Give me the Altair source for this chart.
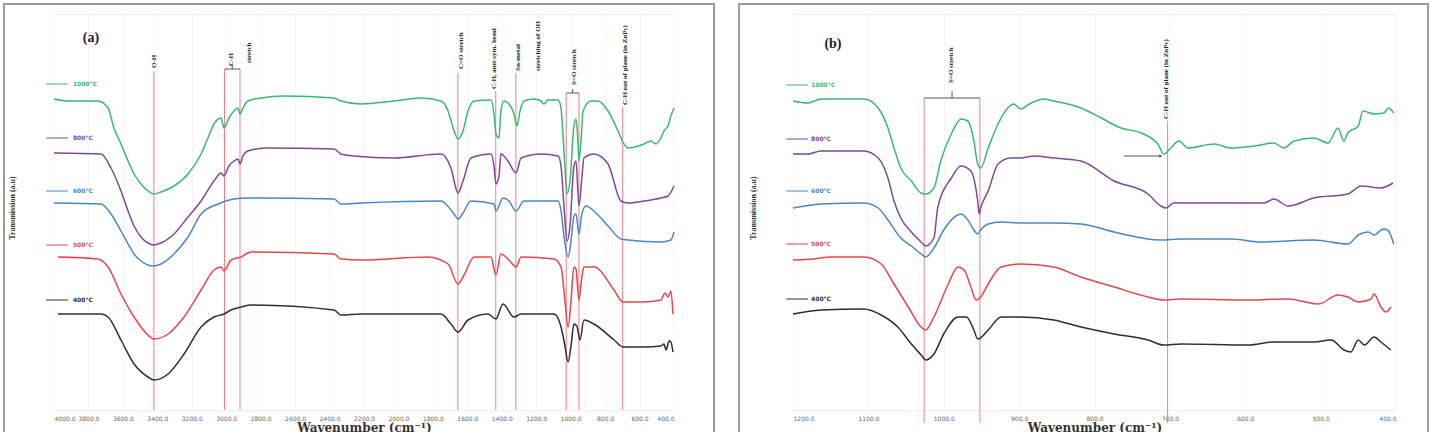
import altair as alt
import pandas as pd

# Sample series (legend order, top to bottom) and their colours
SERIES = ["1000°C", "800°C", "600°C", "500°C", "400°C"]
COLORS = ["#3cb872", "#7e4a92", "#4a86c8", "#e4474c", "#2e2e2e"]

# ---------------- Panel (a): full range 4000-400 cm-1 ----------------
A_GREEN = [(4000, 77.75), (3919, 77.25), (3745, 77.25), (3686, 75.5), (3652, 70.5), (3611, 66.5),
           (3570, 62.25), (3535, 59), (3495, 56.5), (3454, 54.75), (3419, 54), (3379, 54.5),
           (3303, 56), (3222, 59), (3146, 64), (3106, 68), (3071, 71.5), (3030, 73), (3013, 70.5),
           (2984, 73), (2955, 74.75), (2932, 75.5), (2920, 74), (2903, 75.5), (2874, 77.25),
           (2798, 78), (2665, 78.5), (2374, 78), (2334, 77.25), (2217, 76.5), (2026, 77.25),
           (1869, 78), (1753, 77.25), (1712, 74.75), (1677, 69.75), (1654, 67.75), (1625, 69.75),
           (1596, 74.75), (1561, 77.25), (1463, 77.5), (1445, 74), (1434, 69), (1416, 68),
           (1405, 74.75), (1387, 77.25), (1358, 76.5), (1329, 74), (1312, 71), (1294, 74.75),
           (1271, 77.25), (1213, 77.75), (1172, 77.25), (1155, 76.5), (1132, 77.5), (1073, 77.5),
           (1056, 75.5), (1039, 64.75), (1021, 54), (1004, 57.25), (981, 71), (969, 72.75),
           (958, 67.25), (952, 62.25), (940, 67.25), (928, 74.75), (882, 77.25), (841, 77.25),
           (783, 74.75), (725, 69.75), (690, 66.5), (667, 65.5), (574, 66.5), (534, 67.25),
           (505, 66.5), (476, 68), (458, 69.75), (435, 71), (418, 73.5), (400, 75.5)]
A_PURPLE = [(4000, 64.25), (3727, 64), (3669, 60.5), (3611, 54.75), (3570, 49.75), (3535, 46),
            (3495, 43.25), (3454, 41.75), (3425, 41.25), (3379, 41.75), (3303, 44), (3222, 48.25),
            (3146, 52.25), (3071, 57.25), (3030, 59.25), (3013, 58.5), (2984, 61), (2955, 62.25),
            (2932, 62.75), (2920, 61.5), (2903, 63.5), (2874, 64.75), (2757, 65.5), (2374, 65.25),
            (2334, 64), (2258, 63.5), (2026, 63), (1753, 64), (1695, 60.5), (1654, 54.25),
            (1625, 57.25), (1579, 63), (1463, 64), (1445, 61), (1434, 56.5), (1416, 58.5),
            (1405, 64), (1364, 62.25), (1317, 59.25), (1288, 63), (1172, 64), (1073, 63.5),
            (1056, 61), (1039, 51), (1021, 42.25), (1004, 46), (981, 61), (969, 62.25), (952, 51),
            (934, 58.5), (923, 63), (865, 64), (783, 61.5), (708, 52.25), (667, 51.75),
            (574, 52.25), (476, 53), (435, 53.5), (400, 56)]
A_BLUE = [(4000, 51.75), (3727, 51.5), (3669, 49), (3611, 44.75), (3570, 41.5), (3535, 39),
          (3495, 37.25), (3454, 36.25), (3425, 36), (3379, 36.5), (3303, 39), (3222, 43.25),
          (3146, 49), (3048, 51.5), (2955, 52.75), (2874, 53), (2374, 52.75), (2334, 51.5),
          (2217, 51.75), (1753, 52.25), (1677, 49), (1654, 47.75), (1625, 49.25), (1579, 52.25),
          (1445, 51.5), (1434, 49.75), (1393, 53), (1358, 52.25), (1317, 49.75), (1271, 52.25),
          (1073, 52.25), (1056, 49.75), (1039, 43.5), (1015, 38.25), (998, 42.25), (981, 48.5),
          (969, 49), (952, 44), (934, 49.25), (911, 51), (865, 49.75), (783, 46), (708, 42.75),
          (667, 42.5), (476, 42), (418, 42.5), (400, 44.5)]
A_RED = [(3977, 38.25), (3745, 37.75), (3686, 35.75), (3611, 29), (3535, 23.25), (3454, 18.75),
         (3419, 17.75), (3338, 19), (3245, 23.25), (3146, 30), (3071, 35), (3030, 35.75),
         (3013, 34.75), (2972, 37.5), (2914, 38.25), (2856, 39.5), (2374, 39), (2334, 37.75),
         (2217, 37.5), (1828, 38.25), (1712, 36.5), (1654, 31.5), (1619, 33.75), (1561, 38.25),
         (1463, 38.25), (1434, 33.75), (1405, 39), (1358, 37.5), (1317, 35.75), (1288, 38.25),
         (1097, 37.75), (1056, 35.75), (1033, 27.25), (1015, 20.75), (998, 27.25), (981, 35.75),
         (969, 35.25), (952, 27.5), (934, 33.5), (923, 35.75), (865, 35.75), (748, 30),
         (696, 27), (574, 27), (476, 27.5), (452, 29.25), (435, 28.25), (418, 29.75), (406, 24)]
A_BLACK = [(3977, 24), (3727, 24), (3686, 23.25), (3611, 17.5), (3535, 11.5), (3454, 8.25),
           (3419, 7.5), (3338, 9), (3245, 14), (3146, 20.75), (3071, 23.25), (3013, 24),
           (2972, 25), (2914, 25.75), (2856, 26.25), (2374, 25), (2334, 23.75), (2217, 24),
           (1753, 24), (1695, 21.5), (1654, 19.5), (1596, 22.5), (1480, 24), (1434, 22.75),
           (1393, 26.5), (1329, 23.25), (1288, 24), (1097, 24), (1056, 20.75), (1033, 16),
           (1015, 12), (998, 16), (981, 21.5), (964, 21), (946, 17.5), (923, 22.5), (865, 21.5),
           (748, 17.5), (696, 15.75), (574, 15.75), (476, 16), (458, 16.5), (446, 15),
           (429, 17.25), (418, 17), (406, 14.5)]

A_TICKS = [4000, 3800, 3600, 3400, 3200, 3000, 2800, 2600, 2400, 2200, 2000,
           1800, 1600, 1400, 1200, 1000, 800, 600, 400]
A_LEGEND_Y = [81.5, 68, 54.75, 41.25, 27.5]
# band markers: (wavenumber, top of the guide line)
A_BANDS = [(3420, 84.75), (3010, 85.25), (2920, 85.25), (1655, 84.25), (1435, 79.75),
           (1318, 84.25), (1026, 79.25), (952, 79.25), (698, 75.75)]
A_BAND_TEXT = [("O-H", 3419, 85.5), ("C-H", 2970, 86), ("stretch", 2868, 86.75),
               ("C=O stretch", 1637, 85.25), ("C-H, anti-sym. bend", 1445, 80.25),
               ("Sn-metal", 1306, 84.75), ("stretching of OH", 1190, 84.75),
               ("S=O stretch", 981, 81.25), ("C-H out of plane (in ZnPc)", 685, 76.25)]
# bracket segments: (x1, y1, x2, y2)
A_BRACKETS = [(3010, 85.25, 2920, 85.25), (2965, 85.25, 2965, 86.25),
              (1026, 79.25, 952, 79.25), (989, 79.25, 989, 80.25)]

# ---------------- Panel (b): 1200-400 cm-1 ----------------
B_GREEN = [(1200, 77.25), (1180, 76.75), (1163, 77.75), (1140, 77.75), (1106, 77.75), (1087, 75.5),
           (1074, 70.5), (1066, 65.5), (1057, 60.5), (1043, 57.25), (1030, 54.25), (1024, 54),
           (1013, 55.5), (1004, 62.25), (990, 69), (977, 72.75), (968, 72.25), (960, 67.25),
           (955, 61.5), (951, 60.5), (941, 65.5), (928, 71.5), (915, 75.5), (907, 76.5),
           (898, 75.25), (884, 76.75), (867, 77.75), (854, 77.25), (818, 75.5), (791, 73),
           (765, 70.5), (738, 69.25), (716, 66.5), (708, 64), (699, 65.5), (688, 67.25),
           (676, 65.5), (641, 66.5), (619, 65.5), (588, 66), (562, 66.75), (549, 65.5),
           (535, 67.25), (509, 68), (490, 66.75), (477, 70.5), (469, 67.25), (464, 69.25),
           (450, 71), (444, 74.75), (429, 74), (416, 74.25), (410, 75.5), (403, 74.25)]
B_PURPLE = [(1200, 64), (1180, 64), (1163, 64.75), (1106, 64.75), (1087, 63), (1074, 58),
            (1066, 52.25), (1057, 48), (1043, 44.5), (1030, 42), (1024, 41), (1013, 43),
            (1008, 50.5), (990, 58), (977, 61), (964, 59.75), (955, 52.25), (953, 49),
            (951, 50.5), (941, 54.75), (928, 61.5), (911, 63), (898, 63), (880, 63.5),
            (854, 63), (818, 62.25), (774, 57.25), (729, 54), (712, 51), (705, 50.5),
            (695, 51.75), (641, 51.75), (575, 51.75), (562, 52.75), (543, 51), (509, 53),
            (464, 54), (446, 56), (420, 55.5), (404, 56.75)]
B_BLUE = [(1200, 50.5), (1163, 51.5), (1106, 51.75), (1087, 50.5), (1074, 47.5), (1057, 43),
          (1043, 41), (1030, 39), (1024, 38.25), (1013, 40.5), (1000, 45), (984, 48.5),
          (977, 49), (968, 47.5), (960, 45), (955, 44), (951, 45), (941, 46.5), (924, 47),
          (898, 46.75), (854, 46.75), (818, 46.5), (774, 44.5), (712, 42.5), (685, 42.75),
          (619, 42.75), (579, 42), (509, 42.5), (464, 41.5), (450, 43.75), (437, 44.5),
          (429, 43.75), (417, 45.25), (411, 45), (403, 41.5)]
B_RED = [(1200, 37.5), (1172, 37.75), (1150, 38.25), (1106, 38.25), (1083, 36.5), (1066, 31.5),
         (1047, 25.75), (1030, 20.75), (1024, 20), (1013, 23.25), (994, 31.5), (981, 35.75),
         (973, 35), (964, 30.75), (957, 27.5), (951, 28.25), (941, 31.5), (924, 35.75),
         (898, 36.5), (854, 35.75), (818, 33.25), (774, 30.75), (729, 28.25), (708, 27.5),
         (685, 27.75), (596, 27.5), (543, 27.75), (503, 26.5), (477, 28.75), (464, 28.25),
         (450, 27), (433, 27.75), (429, 29), (420, 25.75), (413, 24.5), (407, 25.75)]
B_BLACK = [(1200, 24), (1163, 25), (1106, 25.25), (1083, 23.75), (1061, 20.75), (1043, 16.5),
           (1030, 13.75), (1024, 12.5), (1013, 14), (1000, 19), (981, 23.25), (970, 23.25),
           (960, 20), (955, 17.75), (941, 20), (924, 23.25), (898, 23.25), (854, 22.5),
           (818, 20.75), (774, 19), (729, 17.5), (708, 16.25), (685, 16.5), (596, 16.25),
           (562, 17), (509, 17), (486, 17.5), (469, 15), (460, 14.5), (450, 17.5), (442, 16.25),
           (429, 18.25), (420, 17), (407, 15)]

B_TICKS = [1200, 1100, 1000, 900, 800, 700, 600, 500, 400]
B_LEGEND_Y = [81.25, 67.75, 54.75, 41.5, 27.75]
B_BANDS = [(1026, 78), (952, 78), (703, 72.25)]
B_BAND_TEXT = [("S=O stretch", 990, 81.75), ("C-H out of plane (in ZnPc)", 705, 72.75)]
B_BRACKETS = [(1026, 78, 952, 78), (989, 78, 989, 79.75), (761, 63.5, 714, 63.5)]
B_ARROW = [(712, 63.5)]

SERIF = "Liberation Serif"
BAND_RED = "#ee8088"
FRAME_GRAY = "#9c9c9c"

color_enc = alt.Color("series:N", scale=alt.Scale(domain=SERIES, range=COLORS), legend=None)
y_scale = alt.Scale(domain=[0, 99], nice=False, zero=False)


def y_enc(field):
    return alt.Y(f"{field}:Q", scale=y_scale, axis=None)


def make_x(domain, ticks):
    axis = alt.Axis(values=ticks, format=".1f", labelFontSize=6, labelColor="#666",
                    labelFont="DejaVu Sans", labelPadding=5, tickSize=0, domain=False,
                    grid=True, gridColor="#f6f6f6", title="Wavenumber (cm⁻¹)",
                    titleFont="DejaVu Serif", titleFontWeight="bold", titleFontSize=12,
                    titleColor="#333", titlePadding=1)

    def enc(field):
        return alt.X(f"{field}:Q", scale=alt.Scale(domain=domain, nice=False, zero=False),
                     axis=axis)
    return enc


def build_panel(curves, domain, ticks, width, legend_y, leg_x, bands, band_bottom,
                band_text, brackets, tag, ytitle_x, frame_x, arrows=None):
    x_enc = make_x(domain, ticks)
    rows = []
    for name, pts in zip(SERIES, curves):
        for wn, t in pts:
            rows.append({"wn": wn, "T": t, "series": name})
    curve_df = pd.DataFrame(rows)

    frame = alt.Chart(pd.DataFrame({"k": [0]})).mark_rect(
        fillOpacity=0, stroke=FRAME_GRAY, strokeWidth=2
    ).encode(x=alt.value(frame_x[0]), x2=alt.value(frame_x[1]),
             y=alt.value(-10), y2=alt.value(427))

    band_df = pd.DataFrame({"wn": [b[0] for b in bands], "top": [b[1] for b in bands],
                            "bot": [band_bottom] * len(bands)})
    band_lines = alt.Chart(band_df).mark_rule(color=BAND_RED, strokeWidth=1).encode(
        x=x_enc("wn"), y=y_enc("top"), y2="bot:Q")

    br_df = pd.DataFrame(brackets, columns=["x1", "y1", "x2", "y2"])
    br = alt.Chart(br_df).mark_rule(color="#555", strokeWidth=1).encode(
        x=x_enc("x1"), x2="x2:Q", y=y_enc("y1"), y2="y2:Q")

    txt_df = pd.DataFrame(band_text, columns=["label", "wn", "T"])
    txt = alt.Chart(txt_df).mark_text(
        angle=270, align="left", baseline="middle", font=SERIF, fontWeight="bold",
        fontSize=7, color="#222"
    ).encode(x=x_enc("wn"), y=y_enc("T"), text="label:N")

    lines = alt.Chart(curve_df).mark_line(strokeWidth=1.5, interpolate="monotone").encode(
        x=x_enc("wn"), y=y_enc("T"), color=color_enc,
        order=alt.Order("wn:Q", sort="descending"))

    leg_df = pd.DataFrame({"series": SERIES, "T": legend_y,
                           "x1": [leg_x[0]] * 5, "x2": [leg_x[1]] * 5, "xt": [leg_x[2]] * 5})
    leg_rule = alt.Chart(leg_df).mark_rule(strokeWidth=1).encode(
        x=x_enc("x1"), x2="x2:Q", y=y_enc("T"), color=color_enc)
    leg_text = alt.Chart(leg_df).mark_text(
        align="left", baseline="middle", fontSize=6, font="DejaVu Sans", fontWeight="bold"
    ).encode(x=x_enc("xt"), y=y_enc("T"), text="series:N", color=color_enc)

    tag_df = pd.DataFrame({"label": [tag[0]], "wn": [tag[1]], "T": [tag[2]]})
    tag_mark = alt.Chart(tag_df).mark_text(
        font=SERIF, fontSize=14, fontWeight="bold", color="#222", baseline="middle"
    ).encode(x=x_enc("wn"), y=y_enc("T"), text="label:N")

    yt_df = pd.DataFrame({"label": ["Transmission (a.u)"], "wn": [ytitle_x], "T": [50.5]})
    ytitle = alt.Chart(yt_df).mark_text(
        angle=270, align="center", baseline="middle", font=SERIF, fontWeight="bold",
        fontSize=8, color="#333"
    ).encode(x=x_enc("wn"), y=y_enc("T"), text="label:N")

    layers = [frame, band_lines, br, txt, lines, leg_rule, leg_text, tag_mark, ytitle]
    if arrows:
        ar_df = pd.DataFrame(arrows, columns=["wn", "T"])
        layers.append(alt.Chart(ar_df).mark_point(
            shape="triangle-right", filled=True, size=14, color="#555", opacity=1
        ).encode(x=x_enc("wn"), y=y_enc("T")))

    return alt.layer(*layers).properties(width=width, height=396)


panel_a = build_panel(
    [A_GREEN, A_PURPLE, A_BLUE, A_RED, A_BLACK], [4000, 400], A_TICKS, 620,
    A_LEGEND_Y, (4046, 3919, 3890), A_BANDS, 0, A_BAND_TEXT, A_BRACKETS,
    ("(a)", 3785, 93), 4238, (-50, 660))

panel_b = build_panel(
    [B_GREEN, B_PURPLE, B_BLUE, B_RED, B_BLACK], [1200, 400], B_TICKS, 603,
    B_LEGEND_Y, (1209, 1180, 1176), B_BANDS, -3.25, B_BAND_TEXT, B_BRACKETS,
    ("(b)", 1147, 91.5), 1252, (-54, 635), arrows=B_ARROW)

chart = alt.hconcat(panel_a, panel_b, spacing=119, bounds="flush").properties(
    padding={"left": 2, "top": 2, "right": 2, "bottom": 2},
    background="white",
).configure_view(stroke="#ececec")

chart.save("out.html", embed_options={"renderer": "svg", "actions": False})
